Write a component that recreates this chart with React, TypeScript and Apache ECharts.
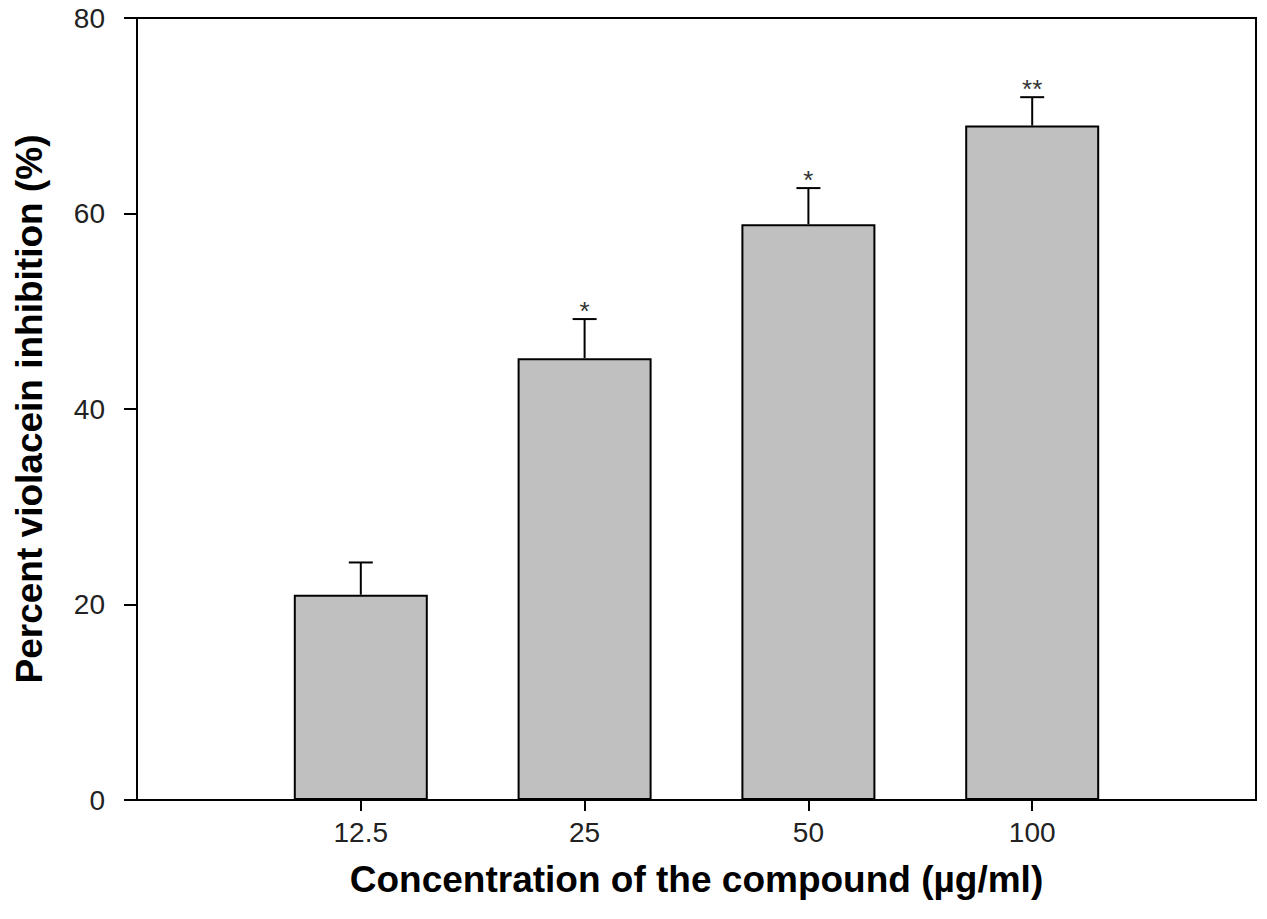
import React, { useEffect, useRef } from "react";
import * as echarts from "echarts";

const categories = ["12.5", "25", "50", "100"];
const meanValues = [21, 45.2, 58.9, 69.0];
const errorTops = [24.3, 49.2, 62.6, 71.9];
const significance = ["", "*", "*", "**"];
const yTicks = [0, 20, 40, 60, 80];

export default function App() {
  const ref = useRef<HTMLDivElement>(null);
  useEffect(() => {
    if (!ref.current) return;
    const chart = echarts.init(ref.current, undefined, { renderer: "svg" });
    const positions = categories.map((_, i) => i);
    const font = "'Liberation Sans', Arial, sans-serif";
    chart.setOption({
      animation: false,
      backgroundColor: "#ffffff",
      grid: {
        left: 137,
        right: 11,
        top: 18,
        bottom: 119,
        show: true,
        borderColor: "#000",
        borderWidth: 2,
        backgroundColor: "transparent",
        containLabel: false,
        outerBoundsMode: "none",
      },
      xAxis: {
        type: "value",
        min: -1,
        max: 4,
        interval: 1,
        splitLine: { show: false },
        axisLine: { show: true, onZero: false, lineStyle: { color: "#000", width: 2 } },
        axisTick: {
          show: true,
          customValues: positions,
          length: 11,
          lineStyle: { color: "#000", width: 2 },
        },
        axisLabel: {
          customValues: positions,
          formatter: (v: number) => categories[Math.round(v)] ?? "",
          fontFamily: font,
          fontSize: 28,
          color: "#222",
          margin: 18,
        },
        name: "Concentration of the compound (µg/ml)",
        nameLocation: "middle",
        nameGap: 61,
        nameTextStyle: { fontFamily: font, fontSize: 37, fontWeight: "bold", color: "#000" },
      },
      yAxis: {
        type: "value",
        min: 0,
        max: 80,
        interval: 20,
        splitLine: { show: false },
        axisLine: { show: true, onZero: false, lineStyle: { color: "#000", width: 2 } },
        axisTick: { show: true, length: 13, lineStyle: { color: "#000", width: 2 } },
        axisLabel: {
          fontFamily: font,
          fontSize: 28,
          color: "#222",
          margin: 32,
          formatter: (v: number) => (yTicks.includes(v) ? String(v) : ""),
        },
        name: "Percent violacein inhibition (%)",
        nameLocation: "middle",
        nameGap: 89,
        nameTextStyle: { fontFamily: font, fontSize: 37, fontWeight: "bold", color: "#000" },
      },
      series: [
        {
          type: "bar",
          data: meanValues.map((v, i) => [positions[i], v]),
          barWidth: 134,
          itemStyle: { color: "#c0c0c0", borderColor: "#000", borderWidth: 2 },
          z: 2,
        },
        {
          type: "custom",
          data: meanValues.map((v, i) => [positions[i], v, errorTops[i], i]),
          z: 3,
          renderItem: (params: any, api: any) => {
            const x = api.value(0);
            const base = api.coord([x, api.value(1)]);
            const top = api.coord([x, api.value(2)]);
            const idx = api.value(3);
            const children: any[] = [
              {
                type: "line",
                shape: { x1: base[0], y1: base[1], x2: top[0], y2: top[1] },
                style: { stroke: "#000", lineWidth: 2 },
              },
              {
                type: "line",
                shape: { x1: top[0] - 12, y1: top[1], x2: top[0] + 12, y2: top[1] },
                style: { stroke: "#000", lineWidth: 2 },
              },
            ];
            const s = significance[idx];
            if (s) {
              children.push({
                type: "text",
                x: top[0],
                y: top[1] + 5,
                style: {
                  text: s,
                  fontFamily: font,
                  fontSize: 26,
                  fill: "#333",
                  align: "center",
                  verticalAlign: "bottom",
                },
              });
            }
            return { type: "group", children };
          },
        },
      ],
    });
    return () => chart.dispose();
  }, []);
  return (
    <div
      ref={ref}
      style={{ position: "absolute", left: 0, top: 0, width: 1267, height: 919 }}
    />
  );
}
